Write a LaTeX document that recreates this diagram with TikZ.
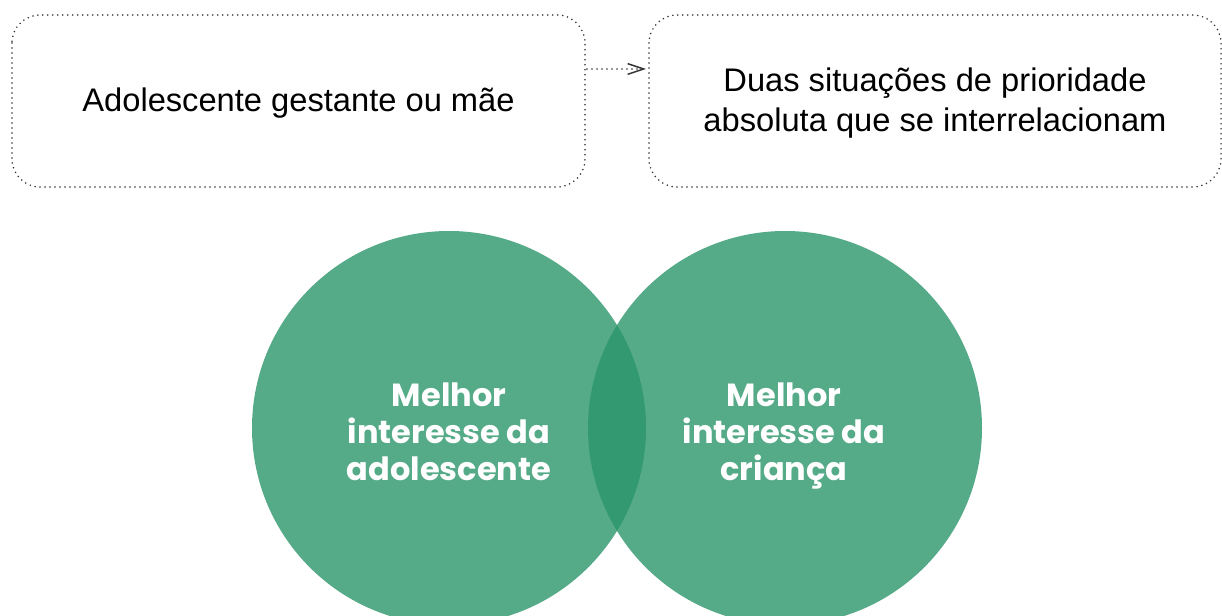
\documentclass[tikz,border=0pt]{standalone}
\usepackage{fontspec}
\setmainfont{Liberation Sans}
\newfontfamily\circfont{Poppins}[UprightFont=* SemiBold,BoldFont=* Bold]
\usetikzlibrary{arrows.meta}
\definecolor{vgreen}{RGB}{43,149,106}
\definecolor{dotgray}{RGB}{50,50,50}
\tikzset{
  dotline/.style={draw=dotgray, line width=1.3pt, dash pattern=on 0pt off 3.75pt, line cap=round},
  dotbox/.style={dotline, rounded corners=21pt},
  boxtext/.style={font=\fontsize{24.5}{30}\selectfont, align=center},
  circ/.style={circle, fill=vgreen, fill opacity=0.8, minimum size=295.5pt, inner sep=0pt},
  circtext/.style={text=white, align=center, anchor=north, font=\circfont\bfseries\fontsize{24}{27.7}\selectfont},
}
\begin{document}
\begin{tikzpicture}[x=0.75pt,y=-0.75pt]
\useasboundingbox (0,0) rectangle (1222,616);
\begin{scope}
\clip (0,0) rectangle (1222,616);
\node[circ] (cl) at (449,428) {};
\node[circ] (cr) at (785,428) {};
\end{scope}
\node[circtext] (tl) at (449,378) {Melhor\\interesse da\\adolescente};
\node[circtext] (tr) at (784,378) {Melhor\\interesse da\\criança};
\draw[dotbox] (12,15) rectangle (585,187);
\node (bl) [minimum width=429.75pt, minimum height=129pt, inner sep=0pt] at (298.5,101) {};
\node[boxtext] (tbl) at (298.5,103) {Adolescente gestante ou mãe};
\draw[dotbox] (649,15) rectangle (1221,187);
\node (br) [minimum width=429pt, minimum height=129pt, inner sep=0pt] at (935,101) {};
\node[boxtext] (tbr) at (935,103) {Duas situações de prioridade\\absoluta que se interrelacionam};
\coordinate (a1) at (587,69);
\coordinate (a2) at (646,69);
\draw[dotline, -{Straight Barb[length=12pt,width=8pt,line width=1.1pt]}] (a1) -- (a2);
\end{tikzpicture}
\end{document}
